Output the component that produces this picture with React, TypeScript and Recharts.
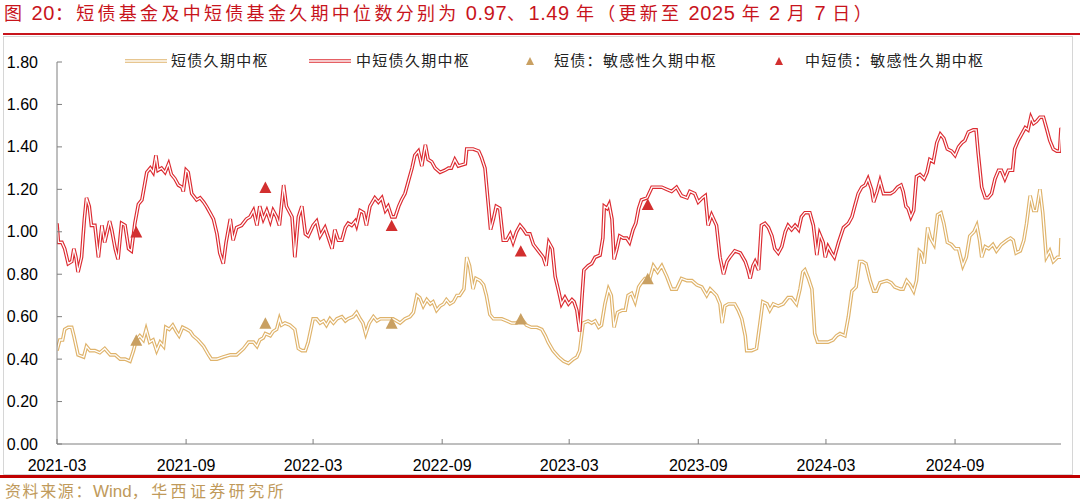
import React from 'react';
import { ComposedChart, Line, Scatter, XAxis, YAxis } from 'recharts';

// x values are day offsets from 2021-03-01
const START_UTC = Date.UTC(2021, 2, 1);
const END_DAY = 1431;

const tickLabels = ['2021-03', '2021-09', '2022-03', '2022-09', '2023-03', '2023-09', '2024-03', '2024-09'];
const yTicks = [0, 0.2, 0.4, 0.6, 0.8, 1.0, 1.2, 1.4, 1.6, 1.8];

const seriesNames = ['短债久期中枢', '中短债久期中枢', '短债：敏感性久期中枢', '中短债：敏感性久期中枢'];

const shortDuration: [number, number][] = [
  [0, 0.44], [4, 0.49], [8, 0.49], [11, 0.54], [16, 0.55], [21, 0.55], [24, 0.51], [30, 0.42], [38, 0.41], [42, 0.46],
  [47, 0.44], [54, 0.44], [61, 0.43], [68, 0.45], [76, 0.42], [83, 0.42], [90, 0.40], [97, 0.40], [104, 0.39], [109, 0.44],
  [113, 0.49], [118, 0.51], [123, 0.49], [127, 0.54], [132, 0.48], [137, 0.49], [142, 0.44], [147, 0.48], [152, 0.46], [155, 0.55],
  [160, 0.54], [165, 0.56], [170, 0.53], [174, 0.51], [179, 0.55], [185, 0.54], [190, 0.53], [194, 0.51], [201, 0.49], [209, 0.46],
  [216, 0.42], [220, 0.40], [228, 0.40], [237, 0.41], [247, 0.42], [256, 0.42], [266, 0.45], [273, 0.48], [280, 0.48], [285, 0.46],
  [289, 0.49], [294, 0.50], [297, 0.52], [304, 0.51], [308, 0.53], [313, 0.54], [317, 0.59], [320, 0.56], [325, 0.57], [332, 0.56],
  [339, 0.54], [344, 0.45], [349, 0.44], [354, 0.44], [358, 0.48], [365, 0.59], [370, 0.59], [375, 0.57], [380, 0.58], [384, 0.56],
  [389, 0.59], [394, 0.57], [399, 0.59], [406, 0.60], [411, 0.58], [415, 0.59], [422, 0.60], [427, 0.62], [432, 0.59], [436, 0.57],
  [440, 0.52], [445, 0.57], [451, 0.60], [456, 0.58], [461, 0.59], [468, 0.59], [472, 0.59], [479, 0.59], [484, 0.58], [489, 0.57],
  [496, 0.59], [503, 0.60], [508, 0.62], [513, 0.70], [517, 0.69], [522, 0.65], [527, 0.68], [532, 0.66], [536, 0.67], [541, 0.63],
  [546, 0.65], [551, 0.66], [555, 0.68], [560, 0.66], [565, 0.67], [570, 0.70], [574, 0.70], [580, 0.73], [584, 0.88], [588, 0.84],
  [593, 0.73], [597, 0.78], [603, 0.77], [608, 0.75], [612, 0.70], [617, 0.61], [622, 0.59], [627, 0.59], [634, 0.59], [641, 0.58],
  [648, 0.57], [655, 0.57], [662, 0.59], [669, 0.56], [676, 0.55], [684, 0.55], [691, 0.54], [696, 0.51], [700, 0.48], [707, 0.44],
  [715, 0.41], [722, 0.39], [729, 0.38], [736, 0.40], [741, 0.41], [745, 0.44], [750, 0.57], [757, 0.58], [762, 0.57], [767, 0.58],
  [772, 0.55], [776, 0.56], [781, 0.66], [786, 0.73], [790, 0.70], [794, 0.55], [799, 0.62], [805, 0.63], [810, 0.63], [814, 0.70],
  [819, 0.71], [824, 0.67], [829, 0.74], [833, 0.76], [838, 0.78], [845, 0.78], [850, 0.84], [856, 0.81], [862, 0.84], [869, 0.79],
  [876, 0.73], [883, 0.73], [890, 0.78], [898, 0.77], [905, 0.77], [912, 0.75], [919, 0.74], [926, 0.70], [931, 0.73], [940, 0.70],
  [945, 0.66], [948, 0.57], [952, 0.65], [957, 0.66], [962, 0.66], [966, 0.66], [971, 0.63], [976, 0.59], [981, 0.51], [983, 0.44],
  [990, 0.44], [997, 0.45], [1002, 0.57], [1006, 0.67], [1012, 0.66], [1016, 0.63], [1021, 0.66], [1028, 0.65], [1035, 0.66], [1042, 0.69],
  [1047, 0.69], [1054, 0.66], [1059, 0.73], [1063, 0.81], [1066, 0.82], [1071, 0.78], [1076, 0.73], [1080, 0.52], [1084, 0.48], [1089, 0.48],
  [1094, 0.48], [1099, 0.48], [1106, 0.49], [1111, 0.51], [1116, 0.52], [1123, 0.51], [1128, 0.60], [1133, 0.72], [1139, 0.74], [1144, 0.86],
  [1148, 0.86], [1153, 0.85], [1159, 0.77], [1164, 0.72], [1168, 0.72], [1173, 0.76], [1183, 0.77], [1189, 0.76], [1194, 0.74], [1202, 0.73],
  [1206, 0.73], [1211, 0.77], [1216, 0.75], [1221, 0.72], [1225, 0.77], [1229, 0.91], [1232, 0.90], [1236, 0.85], [1241, 1.02], [1245, 0.97],
  [1250, 0.94], [1255, 1.08], [1260, 1.09], [1264, 1.04], [1269, 0.95], [1275, 0.94], [1280, 0.92], [1285, 0.92], [1291, 0.84], [1296, 0.88],
  [1301, 0.98], [1307, 1.00], [1311, 1.03], [1315, 0.96], [1318, 0.88], [1323, 0.93], [1328, 0.92], [1334, 0.94], [1339, 0.91], [1346, 0.94],
  [1354, 0.96], [1359, 0.97], [1363, 0.96], [1367, 0.90], [1373, 0.91], [1378, 0.96], [1382, 1.04], [1387, 1.17], [1392, 1.10], [1396, 1.10],
  [1401, 1.20], [1405, 1.09], [1410, 0.88], [1415, 0.91], [1420, 0.86], [1426, 0.88], [1430, 0.88], [1431, 0.97],
];

const midDuration: [number, number][] = [
  [0, 1.04], [2, 0.95], [7, 0.95], [11, 0.92], [16, 0.85], [21, 0.86], [24, 0.92], [27, 0.88], [30, 0.81], [35, 0.88],
  [39, 1.06], [42, 1.16], [46, 1.12], [49, 1.03], [54, 1.03], [59, 0.88], [64, 1.03], [68, 0.95], [75, 1.05], [78, 1.01],
  [83, 0.92], [87, 0.87], [92, 1.04], [97, 1.03], [102, 0.92], [106, 0.91], [111, 1.04], [116, 1.13], [121, 1.15], [128, 1.28],
  [133, 1.30], [137, 1.28], [141, 1.36], [144, 1.29], [149, 1.30], [154, 1.28], [159, 1.32], [163, 1.27], [168, 1.25], [173, 1.22],
  [178, 1.21], [180, 1.19], [184, 1.29], [187, 1.28], [192, 1.18], [199, 1.15], [204, 1.16], [209, 1.14], [213, 1.12], [218, 1.09],
  [223, 1.06], [228, 0.99], [232, 0.90], [237, 0.85], [241, 0.95], [247, 1.06], [251, 0.96], [256, 1.02], [263, 1.03], [270, 1.06],
  [275, 1.07], [280, 1.10], [285, 1.03], [289, 1.12], [294, 1.06], [299, 1.10], [304, 1.05], [308, 1.10], [313, 1.07], [317, 1.03],
  [323, 1.22], [327, 1.12], [335, 1.07], [339, 0.88], [344, 1.07], [349, 1.12], [354, 0.99], [358, 0.98], [365, 1.03], [370, 1.05],
  [375, 0.98], [382, 1.02], [387, 0.97], [392, 0.92], [396, 1.01], [401, 0.96], [406, 0.96], [411, 1.02], [415, 1.04], [420, 1.03],
  [425, 1.05], [427, 1.03], [432, 1.10], [437, 1.09], [441, 1.03], [446, 1.12], [453, 1.16], [458, 1.14], [463, 1.16], [468, 1.10],
  [472, 1.12], [477, 1.07], [482, 1.07], [487, 1.12], [491, 1.15], [496, 1.18], [501, 1.24], [506, 1.30], [510, 1.36], [515, 1.38],
  [520, 1.31], [525, 1.41], [529, 1.34], [534, 1.33], [539, 1.30], [546, 1.28], [553, 1.29], [558, 1.30], [562, 1.30], [567, 1.34],
  [572, 1.31], [582, 1.32], [584, 1.39], [593, 1.39], [601, 1.38], [605, 1.35], [610, 1.30], [615, 1.12], [618, 1.01], [622, 1.06],
  [626, 1.12], [631, 1.11], [636, 0.96], [641, 0.96], [646, 0.99], [650, 0.95], [655, 1.00], [660, 1.03], [665, 1.01], [669, 0.99],
  [674, 0.99], [679, 0.94], [686, 0.91], [693, 0.88], [697, 0.84], [701, 0.95], [706, 0.92], [710, 0.79], [715, 0.72], [719, 0.66],
  [724, 0.69], [729, 0.66], [734, 0.68], [737, 0.67], [741, 0.63], [745, 0.53], [748, 0.68], [751, 0.82], [757, 0.84], [762, 0.85],
  [767, 0.88], [774, 0.89], [778, 0.97], [780, 1.12], [784, 1.11], [787, 1.13], [791, 1.06], [794, 0.87], [798, 0.92], [802, 0.98],
  [807, 0.97], [812, 0.97], [816, 0.95], [821, 1.01], [825, 1.04], [829, 1.11], [833, 1.15], [841, 1.16], [848, 1.21], [855, 1.21],
  [862, 1.21], [869, 1.20], [876, 1.19], [883, 1.21], [890, 1.17], [898, 1.16], [902, 1.19], [909, 1.18], [914, 1.14], [920, 1.16],
  [924, 1.17], [928, 1.03], [933, 1.08], [940, 1.03], [945, 0.88], [950, 0.80], [955, 0.86], [959, 0.88], [966, 0.91], [974, 0.90],
  [981, 0.86], [985, 0.82], [988, 0.78], [992, 0.84], [995, 0.86], [1000, 0.82], [1004, 1.03], [1009, 1.04], [1014, 1.02], [1019, 0.98],
  [1023, 0.92], [1028, 0.90], [1033, 0.93], [1038, 1.00], [1042, 1.03], [1047, 1.01], [1052, 1.03], [1057, 1.01], [1061, 1.07], [1066, 1.09],
  [1073, 1.09], [1078, 1.03], [1083, 0.89], [1087, 0.99], [1092, 0.95], [1095, 0.88], [1099, 0.93], [1104, 0.90], [1108, 0.88], [1114, 0.95],
  [1121, 1.02], [1128, 1.04], [1133, 1.07], [1137, 1.12], [1142, 1.18], [1147, 1.21], [1152, 1.22], [1156, 1.25], [1161, 1.20], [1164, 1.14],
  [1169, 1.19], [1173, 1.24], [1178, 1.18], [1183, 1.18], [1188, 1.18], [1193, 1.19], [1198, 1.21], [1203, 1.22], [1206, 1.19], [1210, 1.12],
  [1213, 1.11], [1217, 1.07], [1221, 1.10], [1225, 1.26], [1230, 1.27], [1236, 1.25], [1240, 1.28], [1244, 1.34], [1249, 1.33], [1254, 1.42],
  [1259, 1.46], [1264, 1.44], [1269, 1.39], [1275, 1.38], [1280, 1.36], [1285, 1.40], [1290, 1.42], [1294, 1.43], [1299, 1.47], [1306, 1.48],
  [1310, 1.48], [1313, 1.37], [1318, 1.21], [1323, 1.16], [1327, 1.16], [1332, 1.18], [1337, 1.25], [1342, 1.29], [1346, 1.29], [1351, 1.25],
  [1356, 1.29], [1362, 1.29], [1365, 1.39], [1370, 1.43], [1375, 1.46], [1380, 1.49], [1384, 1.48], [1388, 1.54], [1392, 1.51], [1396, 1.52],
  [1401, 1.54], [1406, 1.54], [1411, 1.48], [1415, 1.43], [1420, 1.39], [1425, 1.38], [1429, 1.38], [1431, 1.49],
];

const sensDays = [113, 297, 477, 661, 842];
const shortSensValues = [0.49, 0.57, 0.57, 0.59, 0.78];
const midSensValues = [1.0, 1.21, 1.03, 0.91, 1.13];

// title pieces: [text, isNumber]
const titleParts: [string, boolean][] = [
  ['图', false], [' 20', true], ['：短债基金及中短债基金久期中位数分别为', false], [' 0.97', true], ['、', false],
  ['1.49 ', true], ['年（更新至', false], [' 2025 ', true], ['年', false], [' 2 ', true], ['月', false], [' 7 ', true], ['日）', false],
];

// styling
const TAN = '#DFB36B';
const RED = '#DC2B31';
const TAN_TRI = '#C9A062';
const RED_TRI = '#D22F2F';
const AXIS = '#7F7F7F';
const TITLE_RED = '#C8141C';
const PLOT_LEFT = 57;
const PLOT_BOTTOM = 444;
const NUM_FONT = '"Liberation Sans", Arial, sans-serif';
const CJK_FONT = '"Liberation Sans", "Noto Sans CJK SC", sans-serif';

const toDay = (label: string) => {
  const [y, m] = label.split('-').map(Number);
  return Math.round((Date.UTC(y, m - 1, 1) - START_UTC) / 86400000);
};
const tickDays = tickLabels.map(toDay);
const labelByDay: Record<number, string> = {};
tickLabels.forEach((l, i) => (labelByDay[tickDays[i]] = l));

const shortData = shortDuration.map(([d, v]) => ({ d, v }));
const midData = midDuration.map(([d, v]) => ({ d, v }));
const shortSensData = sensDays.map((d, i) => ({ d, v: shortSensValues[i] }));
const midSensData = sensDays.map((d, i) => ({ d, v: midSensValues[i] }));

const triangle = (color: string, w: number) => (props: any) => {
  const { cx, cy } = props;
  if (cx == null || cy == null) return <g />;
  const h = w * 0.95;
  return (
    <polygon
      points={`${cx},${cy - h / 2} ${cx - w / 2},${cy + h / 2} ${cx + w / 2},${cy + h / 2}`}
      fill={color}
    />
  );
};

const YTick = (props: any) => {
  const { y, payload } = props;
  return (
    <g>
      <line x1={PLOT_LEFT} x2={PLOT_LEFT + 5} y1={y} y2={y} stroke={AXIS} strokeWidth={1} />
      <text x={38} y={y} textAnchor="end" dominantBaseline="central" fontSize={16} fill="#000" fontFamily={NUM_FONT}>
        {Number(payload.value).toFixed(2)}
      </text>
    </g>
  );
};

const XTick = (props: any) => {
  const { x, payload } = props;
  return (
    <g>
      <line x1={x} x2={x} y1={PLOT_BOTTOM} y2={PLOT_BOTTOM - 5} stroke={AXIS} strokeWidth={1} />
      <text x={x} y={465} textAnchor="middle" dominantBaseline="central" fontSize={16} fill="#000" fontFamily={NUM_FONT}>
        {labelByDay[payload.value] ?? ''}
      </text>
    </g>
  );
};

const LineIcon = ({ color }: { color: string }) => (
  <svg width={44} height={8} style={{ display: 'block' }}>
    <line x1={1} x2={43} y1={4} y2={4} stroke={color} strokeWidth={3.6} />
    <line x1={1} x2={43} y1={4} y2={4} stroke="#fff" strokeWidth={1.4} />
  </svg>
);

const TriIcon = ({ color }: { color: string }) => (
  <svg width={10} height={10} style={{ display: 'block' }}>
    <polygon points="5,1 1,9 9,9" fill={color} />
  </svg>
);

const legendText: React.CSSProperties = {
  position: 'absolute',
  top: 50,
  fontSize: 15,
  letterSpacing: 1.3,
  color: '#222',
  fontFamily: CJK_FONT,
  whiteSpace: 'nowrap',
  lineHeight: '22px',
};

export default function App() {
  return (
    <div style={{ position: 'absolute', left: 0, top: 0, width: 1080, height: 504, background: '#fff', overflow: 'hidden' }}>
      {/* title */}
      <div
        style={{
          position: 'absolute',
          left: 4,
          top: 0,
          lineHeight: '26px',
          color: TITLE_RED,
          fontFamily: CJK_FONT,
          whiteSpace: 'pre',
        }}
      >
        {titleParts.map(([t, isNum], i) => (
          <span
            key={i}
            style={isNum ? { fontSize: 20, letterSpacing: 0.6 } : { fontSize: 18, letterSpacing: 3.3 }}
          >
            {t}
          </span>
        ))}
      </div>
      {/* top red rule */}
      <div style={{ position: 'absolute', left: 3, top: 33, width: 1077, height: 2, background: TITLE_RED }} />
      {/* frame */}
      <div style={{ position: 'absolute', left: 3, top: 36, width: 1070, height: 439, border: '1px solid #D6D6D6', boxSizing: 'border-box' }} />
      {/* bottom red rule */}
      <div style={{ position: 'absolute', left: 0, top: 475, width: 1080, height: 2.5, background: '#C00000' }} />
      {/* source */}
      <div
        style={{
          position: 'absolute',
          left: 5,
          top: 481,
          lineHeight: '22px',
          color: '#C09A5B',
          fontFamily: CJK_FONT,
          whiteSpace: 'pre',
        }}
      >
        <span style={{ fontSize: 16, letterSpacing: 1.6 }}>资料来源：</span>
        <span style={{ fontSize: 17 }}>Wind</span>
        <span style={{ fontSize: 16, letterSpacing: 3.4 }}>，华西证券研究所</span>
      </div>

      <div style={{ position: 'absolute', left: 0, top: 0 }}>
        <ComposedChart width={1080} height={504} margin={{ top: 62, right: 19, bottom: 0, left: 0 }}>
          <XAxis
            type="number"
            dataKey="d"
            domain={[0, END_DAY]}
            ticks={tickDays}
            interval={0}
            allowDataOverflow
            height={60}
            axisLine={{ stroke: AXIS, strokeWidth: 1 }}
            tickLine={false}
            tick={<XTick />}
          />
          <YAxis
            type="number"
            domain={[0, 1.8]}
            ticks={yTicks}
            interval={0}
            width={57}
            axisLine={{ stroke: AXIS, strokeWidth: 1 }}
            tickLine={false}
            tick={<YTick />}
          />
          <Line data={shortData} dataKey="v" name={seriesNames[0]} type="linear" stroke={TAN} strokeWidth={3.6} dot={false} isAnimationActive={false} />
          <Line data={shortData} dataKey="v" type="linear" stroke="#fff" strokeWidth={1.3} dot={false} isAnimationActive={false} legendType="none" />
          <Line data={midData} dataKey="v" name={seriesNames[1]} type="linear" stroke={RED} strokeWidth={3.6} dot={false} isAnimationActive={false} />
          <Line data={midData} dataKey="v" type="linear" stroke="#fff" strokeWidth={1.3} dot={false} isAnimationActive={false} legendType="none" />
          <Scatter data={shortSensData} dataKey="v" name={seriesNames[2]} shape={triangle(TAN_TRI, 12)} isAnimationActive={false} />
          <Scatter data={midSensData} dataKey="v" name={seriesNames[3]} shape={triangle(RED_TRI, 12)} isAnimationActive={false} />
        </ComposedChart>
      </div>

      {/* legend */}
      <div style={{ position: 'absolute', left: 124, top: 57 }}><LineIcon color={TAN} /></div>
      <div style={{ ...legendText, left: 171 }}>{seriesNames[0]}</div>
      <div style={{ position: 'absolute', left: 308, top: 57 }}><LineIcon color={RED} /></div>
      <div style={{ ...legendText, left: 356 }}>{seriesNames[1]}</div>
      <div style={{ position: 'absolute', left: 525, top: 56 }}><TriIcon color={TAN_TRI} /></div>
      <div style={{ ...legendText, left: 554 }}>{seriesNames[2]}</div>
      <div style={{ position: 'absolute', left: 774, top: 56 }}><TriIcon color={RED_TRI} /></div>
      <div style={{ ...legendText, left: 805 }}>{seriesNames[3]}</div>
    </div>
  );
}
